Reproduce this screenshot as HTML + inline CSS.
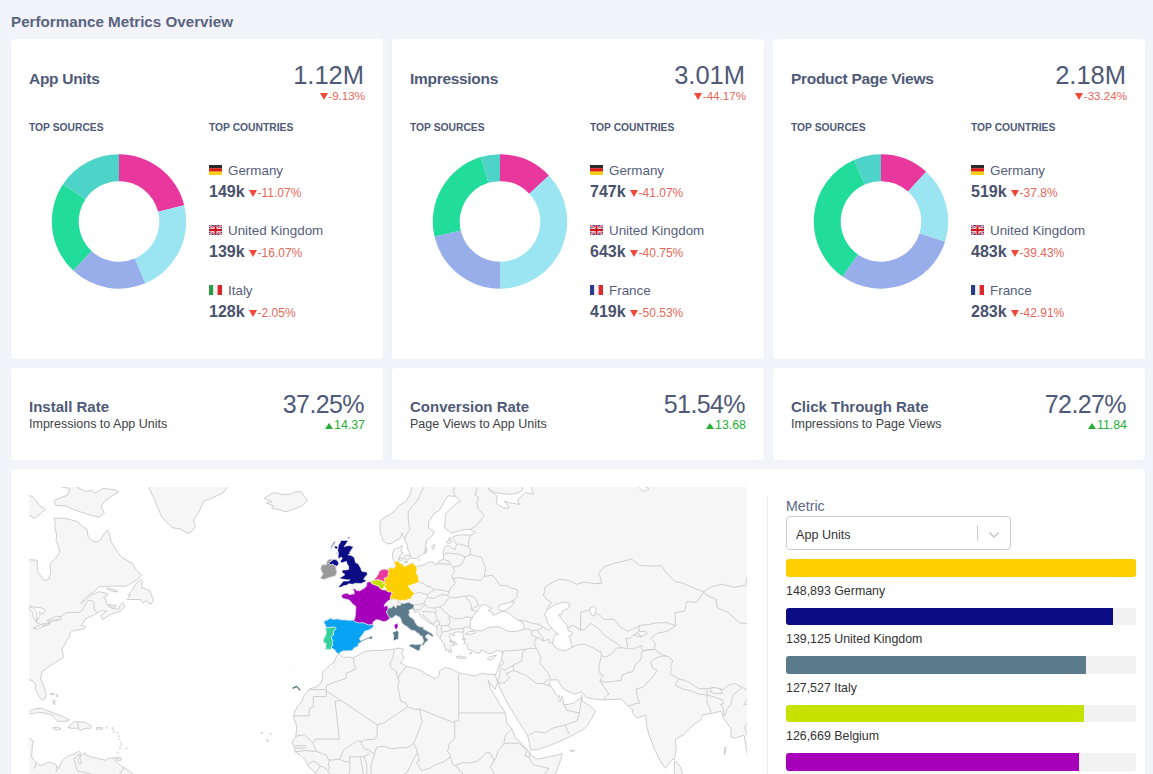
<!DOCTYPE html>
<html><head><meta charset="utf-8"><title>Performance Metrics Overview</title>
<style>
*{box-sizing:border-box;margin:0;padding:0}
html,body{width:1153px;height:774px;overflow:hidden;background:#f3f4fa;font-family:"Liberation Sans",Arial,sans-serif;color:#4f5a78}
.h{position:absolute;left:11px;top:13px;font-size:15.2px;line-height:18px;font-weight:bold;color:#59637f;white-space:nowrap}
.card{position:absolute;background:#fff;border-radius:3px;box-shadow:0 0 1px rgba(60,70,110,.08)}
.c1{top:39px;width:372px;height:320px}
.c2{top:368px;width:372px;height:92px}
.c3{top:469px;left:11px;width:1134px;height:330px}
.ttl{position:absolute;left:18px;top:31px;font-size:15.5px;letter-spacing:-0.3px;line-height:18px;font-weight:bold;color:#4f5a78;white-space:nowrap}
.big{position:absolute;right:19px;top:21.5px;font-size:25.5px;line-height:28px;font-weight:normal;color:#4f5a78;text-align:right;white-space:nowrap}
.chg{position:absolute;right:18px;top:50px;font-size:11.6px;line-height:13px;text-align:right;white-space:nowrap}
.tri{display:inline-block;width:0;height:0;border-left:4px solid transparent;border-right:4px solid transparent;border-top:7.4px solid currentColor;margin-right:0.5px;vertical-align:0px}
.up .tri{border-top:0;border-bottom:6.6px solid currentColor;border-left-width:4px;border-right-width:4px;margin-right:1px}
.tri2{display:inline-block;width:0;height:0;border-left:4px solid transparent;border-right:4px solid transparent;border-top:7px solid #f0483a;margin-right:0.5px;vertical-align:0px}
.dn{color:#e4685a}.dn .tri{border-top-color:#f0483a}.up{color:#27ae35}
.lbl{position:absolute;top:82px;font-size:10.3px;line-height:13px;font-weight:bold;color:#4f5a78;white-space:nowrap}
.l1{left:18px}.l2{left:198px}
.donut{position:absolute;left:40px;top:114px;width:136px;height:136px}
.donut svg{display:block}
.ctry{position:absolute;left:198px;white-space:nowrap}
.cn{font-size:13.4px;color:#56607c;line-height:16px;height:16px}
.cv{font-size:16px;font-weight:bold;color:#49526d;line-height:18px;margin-top:4px}
.cv span.dn{font-size:12px;font-weight:normal}
.flag{display:inline-block;width:13px;height:10px;vertical-align:0px;margin-right:6px}
.t2{top:30px;font-size:15px;letter-spacing:0}
.sub{position:absolute;left:18px;top:49px;font-size:12.5px;line-height:14px;color:#3d3f45;white-space:nowrap}
.b2{top:22px;font-size:25px;letter-spacing:-0.6px}
.g2{top:51px;font-size:12.4px}
.map{position:absolute;left:18px;top:18px;width:717.5px;height:320px;overflow:hidden}
.map svg{display:block}
.vsep{position:absolute;left:756px;top:27px;width:1px;height:300px;background:#ececec}
.metric{position:absolute;left:775px;top:29px;font-size:14.2px;line-height:16px;color:#5b6889}
.sel{position:absolute;left:775px;top:47px;width:225px;height:34px;border:1px solid #cccccc;border-radius:4px;background:#fff}
.sel span{position:absolute;left:9px;top:9.5px;font-size:12.6px;line-height:16px;color:#333}
.isep{position:absolute;left:190px;top:8px;width:1px;height:16px;background:#cccccc}
.chev{position:absolute;left:201px;top:13.5px}
.bar{position:absolute;left:775px;width:350px;height:17.5px;background:#f2f2f2;border-radius:3px;overflow:hidden}
.fill{height:100%}
.blab{position:absolute;left:775px;font-size:12.4px;line-height:14px;color:#333;white-space:nowrap}

</style></head><body>
<div class="h">Performance Metrics Overview</div>
<div class="card c1" style="left:11px"><div class="ttl">App Units</div><div class="big">1.12M</div><div class="chg dn"><span class="tri"></span>-9.13%</div><div class="lbl l1">TOP SOURCES</div><div class="lbl l2">TOP COUNTRIES</div><div class="donut"><svg width="136" height="136" viewBox="0 0 136 136"><path d="M68.00,1.25A67.2,67.2 0 0 1 133.20,52.19L107.10,58.70A40.3,40.3 0 0 0 68.00,28.15Z" fill="#e8389e"/><path d="M133.20,52.19A67.2,67.2 0 0 1 94.26,130.31L83.75,105.55A40.3,40.3 0 0 0 107.10,58.70Z" fill="#9be5f3"/><path d="M94.26,130.31A67.2,67.2 0 0 1 22.17,117.60L40.52,97.92A40.3,40.3 0 0 0 83.75,105.55Z" fill="#98aeeb"/><path d="M22.17,117.60A67.2,67.2 0 0 1 11.96,31.36L34.39,46.21A40.3,40.3 0 0 0 40.52,97.92Z" fill="#21dc9b"/><path d="M11.96,31.36A67.2,67.2 0 0 1 68.00,1.25L68.00,28.15A40.3,40.3 0 0 0 34.39,46.21Z" fill="#4dd3c8"/></svg></div><div class="ctry" style="top:124px"><div class="cn"><svg class="flag" viewBox="0 0 13 10"><rect width="13" height="3.4" fill="#2b2b2b"/><rect y="3.3" width="13" height="3.4" fill="#dd1c12"/><rect y="6.6" width="13" height="3.4" fill="#f5cf18"/></svg>Germany</div><div class="cv">149k <span class="dn"><span class="tri2"></span>-11.07%</span></div></div><div class="ctry" style="top:184px"><div class="cn"><svg class="flag" viewBox="0 0 13 10"><rect width="13" height="10" fill="#2a2a7a"/><path d="M0,0L13,10M13,0L0,10" stroke="#f6d0dc" stroke-width="2.4"/><path d="M0,0L13,10M13,0L0,10" stroke="#d0202c" stroke-width="0.8"/><path d="M6.5,0V10M0,5H13" stroke="#fbe3e8" stroke-width="3.6"/><path d="M6.5,0V10M0,5H13" stroke="#d0161e" stroke-width="2"/></svg>United Kingdom</div><div class="cv">139k <span class="dn"><span class="tri2"></span>-16.07%</span></div></div><div class="ctry" style="top:244px"><div class="cn"><svg class="flag" viewBox="0 0 13 10"><rect width="4.4" height="10" fill="#2a9d44"/><rect x="4.3" width="4.4" height="10" fill="#f4f4f4"/><rect x="8.6" width="4.4" height="10" fill="#d8262a"/></svg>Italy</div><div class="cv">128k <span class="dn"><span class="tri2"></span>-2.05%</span></div></div></div>
<div class="card c1" style="left:392px"><div class="ttl">Impressions</div><div class="big">3.01M</div><div class="chg dn"><span class="tri"></span>-44.17%</div><div class="lbl l1">TOP SOURCES</div><div class="lbl l2">TOP COUNTRIES</div><div class="donut"><svg width="136" height="136" viewBox="0 0 136 136"><path d="M68.00,1.25A67.2,67.2 0 0 1 116.99,22.45L97.38,40.86A40.3,40.3 0 0 0 68.00,28.15Z" fill="#e8389e"/><path d="M116.99,22.45A67.2,67.2 0 0 1 68.00,135.65L68.00,108.75A40.3,40.3 0 0 0 97.38,40.86Z" fill="#9be5f3"/><path d="M68.00,135.65A67.2,67.2 0 0 1 2.52,83.57L28.73,77.52A40.3,40.3 0 0 0 68.00,108.75Z" fill="#98aeeb"/><path d="M2.52,83.57A67.2,67.2 0 0 1 48.80,4.05L56.49,29.83A40.3,40.3 0 0 0 28.73,77.52Z" fill="#21dc9b"/><path d="M48.80,4.05A67.2,67.2 0 0 1 68.00,1.25L68.00,28.15A40.3,40.3 0 0 0 56.49,29.83Z" fill="#4dd3c8"/></svg></div><div class="ctry" style="top:124px"><div class="cn"><svg class="flag" viewBox="0 0 13 10"><rect width="13" height="3.4" fill="#2b2b2b"/><rect y="3.3" width="13" height="3.4" fill="#dd1c12"/><rect y="6.6" width="13" height="3.4" fill="#f5cf18"/></svg>Germany</div><div class="cv">747k <span class="dn"><span class="tri2"></span>-41.07%</span></div></div><div class="ctry" style="top:184px"><div class="cn"><svg class="flag" viewBox="0 0 13 10"><rect width="13" height="10" fill="#2a2a7a"/><path d="M0,0L13,10M13,0L0,10" stroke="#f6d0dc" stroke-width="2.4"/><path d="M0,0L13,10M13,0L0,10" stroke="#d0202c" stroke-width="0.8"/><path d="M6.5,0V10M0,5H13" stroke="#fbe3e8" stroke-width="3.6"/><path d="M6.5,0V10M0,5H13" stroke="#d0161e" stroke-width="2"/></svg>United Kingdom</div><div class="cv">643k <span class="dn"><span class="tri2"></span>-40.75%</span></div></div><div class="ctry" style="top:244px"><div class="cn"><svg class="flag" viewBox="0 0 13 10"><rect width="4.4" height="10" fill="#283c8c"/><rect x="4.3" width="4.4" height="10" fill="#f4f4f4"/><rect x="8.6" width="4.4" height="10" fill="#dc2a30"/></svg>France</div><div class="cv">419k <span class="dn"><span class="tri2"></span>-50.53%</span></div></div></div>
<div class="card c1" style="left:773px"><div class="ttl">Product Page Views</div><div class="big">2.18M</div><div class="chg dn"><span class="tri"></span>-33.24%</div><div class="lbl l1">TOP SOURCES</div><div class="lbl l2">TOP COUNTRIES</div><div class="donut"><svg width="136" height="136" viewBox="0 0 136 136"><path d="M68.00,1.25A67.2,67.2 0 0 1 113.14,18.67L95.07,38.60A40.3,40.3 0 0 0 68.00,28.15Z" fill="#e8389e"/><path d="M113.14,18.67A67.2,67.2 0 0 1 132.09,88.66L106.43,80.57A40.3,40.3 0 0 0 95.07,38.60Z" fill="#9be5f3"/><path d="M132.09,88.66A67.2,67.2 0 0 1 29.46,123.50L44.88,101.46A40.3,40.3 0 0 0 106.43,80.57Z" fill="#98aeeb"/><path d="M29.46,123.50A67.2,67.2 0 0 1 40.99,6.92L51.80,31.55A40.3,40.3 0 0 0 44.88,101.46Z" fill="#21dc9b"/><path d="M40.99,6.92A67.2,67.2 0 0 1 68.00,1.25L68.00,28.15A40.3,40.3 0 0 0 51.80,31.55Z" fill="#4dd3c8"/></svg></div><div class="ctry" style="top:124px"><div class="cn"><svg class="flag" viewBox="0 0 13 10"><rect width="13" height="3.4" fill="#2b2b2b"/><rect y="3.3" width="13" height="3.4" fill="#dd1c12"/><rect y="6.6" width="13" height="3.4" fill="#f5cf18"/></svg>Germany</div><div class="cv">519k <span class="dn"><span class="tri2"></span>-37.8%</span></div></div><div class="ctry" style="top:184px"><div class="cn"><svg class="flag" viewBox="0 0 13 10"><rect width="13" height="10" fill="#2a2a7a"/><path d="M0,0L13,10M13,0L0,10" stroke="#f6d0dc" stroke-width="2.4"/><path d="M0,0L13,10M13,0L0,10" stroke="#d0202c" stroke-width="0.8"/><path d="M6.5,0V10M0,5H13" stroke="#fbe3e8" stroke-width="3.6"/><path d="M6.5,0V10M0,5H13" stroke="#d0161e" stroke-width="2"/></svg>United Kingdom</div><div class="cv">483k <span class="dn"><span class="tri2"></span>-39.43%</span></div></div><div class="ctry" style="top:244px"><div class="cn"><svg class="flag" viewBox="0 0 13 10"><rect width="4.4" height="10" fill="#283c8c"/><rect x="4.3" width="4.4" height="10" fill="#f4f4f4"/><rect x="8.6" width="4.4" height="10" fill="#dc2a30"/></svg>France</div><div class="cv">283k <span class="dn"><span class="tri2"></span>-42.91%</span></div></div></div>
<div class="card c2" style="left:11px"><div class="ttl t2">Install Rate</div><div class="sub">Impressions to App Units</div><div class="big b2">37.25%</div><div class="chg up g2"><span class="tri"></span>14.37</div></div>
<div class="card c2" style="left:392px"><div class="ttl t2">Conversion Rate</div><div class="sub">Page Views to App Units</div><div class="big b2">51.54%</div><div class="chg up g2"><span class="tri"></span>13.68</div></div>
<div class="card c2" style="left:773px"><div class="ttl t2">Click Through Rate</div><div class="sub">Impressions to Page Views</div><div class="big b2">72.27%</div><div class="chg up g2"><span class="tri"></span>11.84</div></div>
<div class="card c3"><div class="map"><svg width="719" height="300" viewBox="0 0 719 300"><path d="M386.5,-19.0L384.6,-6.6L383.4,-0.5L380.6,8.1L376.7,14.6L370.8,17.8L366.1,23.4L362.2,26.6L355.9,30.3L351.9,32.7L350.8,37.0L351.1,42.9L351.5,47.1L353.5,51.2L353.5,53.5L357.4,56.4L359.0,56.9L362.9,56.4L366.9,53.5L371.6,51.2L373.2,45.9L374.3,50.0L375.5,51.7L378.3,58.6L379.1,63.7L381.4,67.7L382.2,70.4L382.6,71.5L387.3,71.5L388.1,70.4L392.8,67.7L396.0,64.9L396.7,57.5L398.3,52.9L402.6,49.4L405.4,44.7L399.5,41.2L399.5,35.1L404.2,27.8L411.3,22.2L414.8,15.2L419.1,8.8L427.0,9.4L431.3,14.6L427.8,15.9L421.9,21.6L416.4,26.6L416.0,36.4L415.6,41.2L419.9,44.1L421.9,46.2L429.8,44.1L435.6,42.6L441.1,42.3L443.9,44.1L446.6,45.6L441.5,48.2L433.7,47.7L429.0,48.2L423.9,49.7L423.9,51.7L426.2,55.2L427.4,57.5L426.2,62.3L424.2,62.0L420.3,58.6L416.4,59.2L414.0,63.2L414.4,68.2L414.4,72.1L410.1,74.0L408.5,76.7L405.0,77.3L404.2,75.1L400.3,74.8L394.0,78.1L387.3,79.5L385.3,78.1L384.2,75.9L381.8,76.7L379.1,78.1L376.7,79.2L373.9,79.2L374.7,77.0L371.6,77.0L370.8,76.5L370.4,74.8L369.2,73.7L370.0,70.4L371.6,68.2L374.3,66.0L372.0,64.9L372.8,61.5L373.2,58.6L369.2,60.9L365.3,62.0L363.7,65.4L363.3,71.0L365.3,73.7L365.3,76.5L366.3,77.6L366.9,79.2L365.7,79.7L364.9,81.6L362.9,80.8L359.8,81.4L359.0,83.0L355.9,82.2L353.1,82.4L350.2,84.8L349.6,86.7L348.4,88.8L347.2,90.4L345.6,92.0L344.9,93.3L341.5,94.7L339.0,95.1L337.8,95.7L337.8,98.3L336.2,100.6L332.3,102.9L330.7,103.9L327.2,103.4L326.4,101.9L324.0,101.9L325.2,104.4L325.2,107.2L324.0,107.0L320.9,107.7L317.7,106.2L313.8,107.2L312.6,108.5L312.8,110.3L314.4,111.5L319.3,112.5L321.5,114.0L323.2,116.5L327.0,119.5L326.8,121.5L326.6,127.8L325.6,132.6L324.5,133.3L319.7,133.4L316.6,132.9L313.8,133.1L308.5,131.9L304.0,132.4L301.2,131.3L298.5,133.1L295.3,134.1L295.0,135.5L295.9,137.2L297.1,138.8L296.5,140.3L297.1,143.5L297.5,146.2L296.5,148.3L295.7,150.8L294.6,151.9L294.2,154.5L295.3,155.1L295.3,156.2L296.9,156.0L296.9,158.0L296.9,160.7L296.1,162.5L297.7,162.1L300.5,162.5L302.4,161.7L304.0,161.6L306.3,163.4L306.7,164.5L307.9,165.6L309.5,166.9L310.5,166.3L311.1,165.2L314.2,163.8L318.1,163.8L323.2,163.6L325.0,160.9L327.6,159.8L328.6,159.8L329.5,156.5L332.3,154.7L330.3,151.5L332.3,149.0L334.8,145.7L335.4,144.2L340.1,142.8L344.1,140.2L344.5,138.4L343.9,137.8L343.7,135.5L344.1,135.0L347.2,132.6L350.4,133.1L352.7,134.1L354.7,134.6L357.4,134.1L360.2,131.7L361.0,131.2L363.7,130.7L366.5,128.3L370.0,129.8L371.2,130.5L372.0,132.6L372.8,135.3L375.1,137.9L377.7,139.3L380.2,141.4L382.6,143.3L385.5,143.5L387.5,145.1L387.9,146.2L389.5,145.9L390.3,147.6L391.6,149.0L393.0,148.8L393.6,150.8L394.8,153.8L394.0,155.6L393.0,158.3L394.8,158.0L396.5,154.9L398.7,154.0L398.9,151.7L396.7,150.8L396.7,148.8L399.1,146.9L402.2,149.0L403.6,149.9L404.2,148.3L401.8,146.0L397.9,143.9L396.3,143.0L394.0,141.9L395.2,140.5L390.4,139.8L388.1,138.4L386.1,135.5L384.6,132.2L381.0,130.0L379.6,127.8L380.6,125.6L379.8,123.4L383.0,121.7L385.5,122.4L384.9,123.9L386.1,125.9L387.7,123.9L390.1,126.4L392.0,129.8L396.0,132.6L398.3,135.0L402.6,137.0L405.8,138.4L407.7,140.7L408.1,144.4L407.7,147.6L409.7,149.4L410.9,151.3L412.9,154.4L414.4,156.2L415.6,157.1L414.4,158.9L416.4,159.8L416.8,163.4L419.5,162.9L419.9,165.2L422.7,165.2L421.5,160.3L422.3,158.5L425.8,158.0L423.9,155.8L420.3,154.4L422.7,153.5L421.5,151.7L420.3,149.0L421.5,146.2L423.1,148.1L425.4,149.0L424.6,145.8L427.8,144.9L433.3,145.1L433.7,146.2L434.5,148.8L434.1,151.3L436.4,152.2L434.9,156.7L436.4,156.2L438.4,158.5L439.2,162.5L442.7,163.4L446.6,165.6L451.0,166.1L452.2,162.9L455.3,164.3L460.4,166.9L463.2,166.1L467.9,163.4L471.0,164.3L473.8,164.3L472.6,170.5L472.6,173.1L471.0,176.1L469.1,180.9L468.3,183.9L467.1,186.5L465.9,187.3L458.4,187.3L453.3,186.1L449.0,187.8L445.5,189.0L437.6,187.3L430.5,186.1L425.8,183.9L421.9,181.8L416.0,180.5L410.5,183.9L410.1,188.6L406.2,191.6L398.3,187.8L391.2,183.1L383.4,180.5L377.1,179.6L374.7,177.4L371.2,176.1L373.9,172.6L375.1,170.5L373.2,167.8L372.8,165.2L374.7,162.1L370.0,161.2L362.2,162.5L351.1,163.4L343.3,163.4L335.4,164.7L329.1,168.3L323.6,170.9L320.1,170.0L314.2,170.5L310.7,167.4L308.7,167.8L307.1,170.0L304.8,175.7L301.6,177.4L295.3,183.1L293.0,186.5L293.0,187.3L293.8,191.2L291.4,196.7L286.3,200.4L280.8,201.7L279.6,203.0L274.5,209.6L272.6,215.0L268.6,219.1L265.1,226.0L264.5,230.9L266.7,236.1L267.8,240.1L266.7,250.1L262.7,255.2L265.5,260.0L265.9,264.7L270.6,267.8L272.6,269.8L274.1,270.9L277.7,275.6L279.2,279.5L286.3,285.8L292.2,289.6L302.0,295.5L351.1,312.5L488.7,320.2L498.5,314.0L509.5,304.8L520.1,293.1L522.1,292.0L528.0,283.4L531.9,272.1L533.1,266.6L526.0,268.6L508.4,272.1L502.5,268.6L500.9,267.4L499.7,263.9L495.4,260.0L488.7,252.1L486.7,251.7L483.2,242.1L477.7,235.7L476.5,226.0L471.4,218.3L465.1,207.5L461.2,201.3L459.2,193.3L460.4,195.8L466.1,202.4L468.7,195.0L469.1,195.8L471.0,201.3L474.9,209.6L478.9,217.0L485.6,228.0L490.7,236.1L498.5,248.1L500.1,254.8L501.7,263.1L508.4,262.7L522.1,258.0L536.6,251.7L547.6,246.1L554.7,242.1L558.7,238.1L562.6,231.7L566.5,224.0L561.8,219.5L553.2,214.2L552.8,208.0L551.6,211.7L548.8,212.5L545.3,216.2L535.9,217.8L534.3,216.6L534.3,212.5L532.7,209.2L531.1,214.6L528.4,209.6L526.0,205.5L521.7,199.2L520.1,195.4L522.1,192.9L526.0,192.9L529.2,192.9L531.1,197.5L535.9,203.0L545.7,207.1L552.8,204.6L556.7,210.4L565.3,212.1L573.6,212.9L583.0,212.5L592.8,212.1L594.8,214.6L598.7,218.7L600.7,219.9L604.6,224.0L602.7,224.8L606.6,230.1L608.6,230.9L616.8,228.0L617.6,238.1L620.0,248.1L622.3,254.0L625.5,262.3L631.0,273.7L636.3,281.2L638.8,278.0L643.1,272.5L645.3,272.5L647.1,261.5L646.3,252.1L654.9,247.7L658.9,243.3L665.9,236.9L672.6,232.1L673.4,228.0L678.5,227.2L683.2,226.4L687.2,225.2L692.3,224.4L694.2,230.9L696.6,234.1L702.1,242.1L702.1,250.1L706.4,250.9L715.1,248.1L717.4,261.9L719.0,273.7L724.5,281.5L783.5,293.1L783.5,-98.5L567.3,-33.5L504.4,-8.6L502.5,1.5L504.4,7.4L496.6,5.5L490.7,10.7L488.7,13.9L490.7,17.4L480.8,15.9L474.9,13.9L476.9,15.9L480.4,20.9L474.9,20.9L471.0,19.0L467.1,15.9L468.3,8.8L461.2,4.2L459.2,0.8L463.2,4.2L469.1,6.1L480.8,7.4L488.7,6.1L493.8,2.8L492.6,-5.2L449.4,-19.0ZM-61.5,-98.5L-41.9,-56.3L-22.2,-19.0L-14.3,-1.8L-6.5,4.8L-2.6,11.4L-8.4,17.8L-12.4,20.9L-24.2,27.2L-36.0,36.4L-39.9,51.2L-34.0,52.9L-32.0,61.5L-22.2,62.6L-14.3,65.4L-2.6,72.6L8.1,73.2L8.5,84.6L11.6,88.8L15.1,93.6L19.9,92.0L21.8,85.6L21.0,76.5L26.9,71.0L30.5,65.4L29.7,59.8L26.9,53.5L27.7,48.2L25.7,40.6L26.5,35.7L25.0,30.9L36.8,31.5L48.5,34.5L52.5,38.8L58.0,42.3L59.2,50.0L64.3,54.1L67.4,55.2L72.1,52.3L75.3,46.5L78.4,42.9L80.8,48.2L81.9,54.1L88.6,65.4L93.7,71.0L103.6,76.5L106.3,81.9L112.6,88.3L107.5,93.0L99.6,97.7L95.7,99.3L83.9,99.0L70.2,99.8L66.2,103.9L60.3,107.5L54.4,113.0L51.7,116.3L56.4,113.0L62.3,108.0L70.2,104.7L78.4,106.5L78.0,109.0L74.1,110.5L76.8,112.0L77.6,116.5L80.0,119.5L83.9,121.5L89.8,122.2L90.6,119.0L93.7,115.5L95.7,119.5L93.3,122.4L91.8,123.9L81.9,127.3L73.7,132.6L71.7,128.8L77.6,123.9L72.1,123.9L68.2,125.9L64.3,128.3L56.4,131.7L54.0,136.0L52.5,138.4L56.4,139.5L56.4,140.7L54.4,141.9L50.5,142.6L45.0,143.5L41.5,145.3L40.7,146.7L40.7,149.9L37.1,154.0L36.4,156.2L34.8,159.4L32.8,162.5L34.8,170.5L30.9,172.6L25.4,176.1L20.2,179.2L17.1,181.8L12.8,184.8L11.6,191.2L14.7,199.2L17.1,206.7L16.3,211.7L13.6,213.3L10.4,210.0L8.5,206.3L6.1,201.7L6.9,197.9L3.0,193.3L-0.2,192.9L-4.1,194.1L-22.2,195.0L-41.9,197.1L-49.7,213.7L-51.7,230.1L-45.8,238.1L-37.9,241.3L-26.1,239.3L-23.4,230.1L-14.3,228.0L-9.6,228.4L-12.4,236.1L-15.5,240.1L-15.1,246.1L-16.7,250.5L-14.3,250.9L-8.4,250.9L-2.6,250.5L1.4,252.1L4.5,254.0L3.3,258.0L3.0,263.9L2.6,269.8L5.3,273.7L9.2,277.6L12.4,278.4L17.1,276.4L19.1,275.2L25.0,276.4L28.1,279.1L29.7,281.5L32.0,276.0L34.8,272.1L37.5,269.8L39.9,268.6L44.6,267.4L49.7,264.1L52.1,266.6L50.5,269.8L52.5,269.0L55.6,265.5L57.2,268.2L63.1,270.2L68.2,271.3L76.0,273.3L79.2,271.3L87.8,270.9L85.9,272.9L91.8,279.1L97.7,282.3L102.8,286.1L106.7,290.0L115.3,289.3L123.2,291.2L128.7,296.2L135.0,306.7L135.0,312.5L-61.5,312.5ZM111.4,-33.5L115.3,-19.0L121.2,-8.6L120.5,2.2L125.2,11.4L128.3,19.7L133.0,30.3L138.9,36.4L142.9,40.6L150.7,41.8L159.0,46.5L162.5,44.7L166.4,39.4L164.5,33.3L170.4,24.1L174.3,14.6L183.7,10.7L193.9,6.1L203.8,-6.6L233.2,-19.0L233.2,-80.9L111.4,-80.9ZM245.0,21.9L249.0,22.2L256.8,24.7L264.7,22.2L272.6,19.0L278.4,13.9L274.5,8.1L272.6,4.8L266.7,4.8L260.8,7.4L252.9,7.4L245.0,5.5L241.1,7.4L235.2,11.4L243.1,14.6L237.2,15.9L245.0,19.0L242.3,20.9ZM-22.2,-56.3L-2.6,-19.0L13.2,-15.5L25.0,-5.2L40.7,-1.8L46.6,-0.5L56.4,4.2L62.3,3.5L66.2,6.1L74.1,1.5L85.9,2.8L89.8,4.8L81.9,9.4L75.3,14.6L72.1,19.7L75.3,25.9L70.9,30.3L62.3,28.4L52.5,25.3L46.6,23.4L36.8,19.0L26.9,18.4L25.0,13.3L38.7,8.1L40.7,1.5L25.0,-1.8L9.2,-12.1L-14.3,-19.0ZM-8.4,20.9L-2.6,26.6L5.3,31.5L13.2,25.3L16.3,22.2L11.2,19.0L3.3,9.4L-6.5,6.8L-12.4,12.6ZM98.1,112.5L101.6,108.0L98.8,108.0L103.6,102.9L106.3,97.2L111.8,92.0L113.4,93.6L112.6,100.3L117.3,102.4L121.2,103.9L122.4,108.5L124.4,112.5L122.4,117.0L119.3,116.0L117.7,113.5L114.2,116.0L111.4,112.5ZM78.0,101.1L87.8,103.4L89.0,104.9L83.1,104.4L78.0,101.9ZM78.4,117.5L83.9,118.0L87.8,118.5L85.9,120.5L80.8,119.5ZM-2.4,226.4L1.4,223.6L7.3,221.5L13.2,221.5L19.1,224.0L26.9,226.8L34.0,229.6L40.3,232.9L38.7,234.1L28.5,234.5L26.1,231.3L23.0,228.0L15.1,226.0L9.2,225.2L8.1,226.0L3.3,226.4L-0.6,226.8ZM38.9,240.5L45.4,234.5L49.7,234.7L56.4,235.3L60.3,237.7L62.9,239.7L61.5,241.3L56.4,241.3L51.7,243.7L48.5,241.3L42.6,241.3ZM23.6,240.9L28.9,240.1L32.0,242.1L29.3,242.7L25.7,242.5ZM67.2,240.5L73.7,240.7L73.3,242.1L67.4,242.3ZM24.2,212.9L26.1,213.7L25.7,217.8L23.8,215.8ZM21.0,206.7L25.4,206.7L25.0,207.5L21.0,207.3ZM27.7,207.1L29.3,208.4L28.1,210.0L26.9,208.8ZM88.2,270.6L91.8,270.6L91.8,273.3L88.2,273.3ZM307.1,82.7L307.9,84.8L306.5,88.8L304.0,89.4L298.9,90.9L294.2,92.5L291.4,90.9L292.6,89.4L294.2,86.7L292.6,84.6L291.8,81.9L292.6,78.1L297.7,77.6L297.7,75.7L298.9,72.9L302.8,71.8L303.0,73.5L299.5,75.9L301.6,78.1L304.0,77.0L305.6,78.9L306.7,78.7L306.7,79.7ZM427.0,170.0L430.1,168.9L434.9,170.0L437.2,170.2L436.4,171.3L431.7,171.6L427.4,170.5ZM458.4,171.8L460.8,169.6L467.5,168.3L464.7,170.9L464.7,171.6L461.2,173.1L458.8,172.6ZM440.4,166.5L442.3,164.9L442.3,166.7L441.1,167.4ZM432.9,152.4L436.0,151.7L435.3,153.3ZM421.1,153.5L426.2,154.9L428.2,158.0L424.6,156.2ZM374.7,71.5L375.5,68.8L379.4,67.7L381.0,69.9L379.4,73.2L376.7,72.6ZM370.0,71.0L372.4,70.4L373.9,72.1L372.8,73.7L370.4,73.2ZM374.7,74.6L377.9,74.0L378.7,75.4L375.9,75.7ZM402.6,60.3L405.0,57.2L406.2,58.1L404.2,62.6ZM396.0,66.5L397.9,60.9L398.3,61.5L396.3,67.1ZM417.2,55.2L419.9,53.5L423.1,54.1L420.3,56.9ZM419.1,51.7L421.5,50.6L421.9,52.3ZM389.3,72.9L390.8,72.6L390.8,73.7ZM645.3,274.5L647.1,274.5L651.0,279.5L653.4,284.6L652.2,287.7L648.3,289.5L645.9,288.5L645.1,283.4L645.5,279.5ZM541.0,263.5L545.7,263.1L544.5,264.5L542.1,264.7ZM529.8,208.6L530.6,208.6L530.4,210.4ZM695.8,260.3L697.0,260.3L696.2,265.8L695.4,267.8ZM238.0,252.8L239.1,252.8L239.1,254.4L238.0,254.0ZM232.1,245.3L233.6,245.7L232.9,246.5ZM241.3,246.7L242.3,247.3L241.5,247.9Z" fill="#f6f6f6" stroke="#cbcbcb" stroke-width="0.95" stroke-linejoin="round"/><path d="M445.9,143.5L453.3,143.9L459.2,140.7L465.1,139.8L469.8,139.8L473.0,141.2L476.9,143.5L482.4,144.6L487.5,144.4L494.6,142.1L495.0,138.4L492.6,135.0L487.5,132.2L482.0,127.8L478.1,125.4L475.3,124.4L474.9,123.9L471.0,125.4L467.1,127.3L465.9,127.8L463.2,127.8L463.5,125.4L459.2,123.4L463.2,121.0L461.2,120.5L455.3,117.5L452.2,118.0L450.2,121.5L448.2,124.4L444.3,128.8L441.5,134.1L441.1,139.8L441.5,141.6ZM475.3,123.9L478.9,121.5L481.6,120.0L485.6,114.5L482.0,115.0L476.9,116.5L471.0,117.5L469.1,121.5L471.0,123.4ZM436.4,147.2L439.6,144.6L445.5,144.4L446.6,145.8L441.5,147.2ZM518.2,135.0L517.4,130.2L515.4,127.8L518.2,122.4L522.1,120.5L526.0,117.5L535.5,115.0L540.6,116.5L539.8,121.0L533.1,124.4L532.7,127.8L529.2,127.3L533.9,133.6L538.6,138.8L539.0,143.0L539.8,144.4L543.7,145.3L542.5,148.1L539.8,149.0L541.4,152.2L543.3,160.3L535.9,163.8L530.0,162.5L526.0,160.3L523.7,156.2L524.9,151.3L526.4,147.6L529.6,147.2L526.0,144.9L522.5,140.7L519.4,136.5ZM561.4,120.5L565.3,119.5L567.3,122.9L565.3,129.3L562.6,127.8L560.6,123.9ZM50.1,270.6L50.9,270.6L51.7,273.7L52.5,276.4L50.1,276.8L48.9,274.5ZM605.0,-8.6L608.2,-1.2L612.9,3.5L616.8,4.2L620.0,1.5L616.8,0.2L613.7,-2.5L611.3,-8.6ZM-30.1,117.0L-18.3,108.0L-8.4,107.0L-1.8,111.5L-1.0,118.0L-10.4,118.0L-22.2,117.5ZM-13.6,139.8L-12.4,132.6L-11.2,122.9L-6.5,120.5L-2.6,121.5L-7.7,130.2L-8.1,138.4L-10.4,141.2ZM-1.0,121.5L3.3,120.0L11.2,120.5L16.3,122.9L14.3,127.3L10.4,124.4L11.2,127.8L7.3,134.6L4.1,130.2L3.7,124.9ZM4.1,141.2L13.2,137.0L21.0,135.5L20.6,137.4L15.1,139.3L7.3,142.1ZM17.9,133.6L25.0,130.2L31.6,129.3L32.0,132.6L26.9,133.6L20.2,134.1Z" fill="#fff" stroke="#cbcbcb" stroke-width="0.95" stroke-linejoin="round"/><path d="M402.2,-8.6L396.0,-1.8L391.6,6.1L388.5,13.3L385.3,17.1L379.4,24.1L379.1,29.6L379.8,38.2L381.0,42.3L377.9,46.5L376.3,51.2L375.5,51.7M426.4,9.4L424.6,4.8L425.4,-1.8L423.9,-8.6M441.5,42.3L447.8,38.2L455.3,28.4L449.4,22.2L447.8,15.9L449.8,10.1L445.9,8.1L449.0,-1.8L444.3,-6.6L443.5,-15.5M441.5,48.5L440.4,51.7L439.6,54.1L439.6,58.1L439.2,59.5M427.0,57.8L429.8,56.9L433.7,58.1L439.2,59.5L441.5,62.6L441.1,67.7L436.0,69.9M414.2,67.9L418.0,66.0L423.9,66.5L429.8,67.1L436.0,69.9L434.5,73.7L432.5,77.6L427.4,79.7L423.9,79.7L421.1,77.3L420.3,74.3L415.2,72.6M408.5,76.7L421.1,77.3M423.9,79.7L425.4,83.5L424.2,86.7L422.7,88.3L424.2,92.0L426.2,96.2L421.9,100.8L420.3,104.9L414.0,103.4L408.1,102.4L405.4,102.9L401.1,99.3L397.5,99.3L395.2,96.7L390.4,95.1M385.7,106.5L390.4,105.4L397.9,107.5L400.3,106.0L405.4,102.9M397.9,107.5L399.1,110.5L405.4,111.5L408.5,109.5L413.2,107.5L418.4,108.5L420.3,104.9M399.1,110.5L396.3,113.0L394.8,116.3L390.4,117.5L385.3,118.0M394.8,116.3L396.7,118.0L399.5,120.7L405.4,121.0L411.3,119.7L415.2,117.5L418.4,112.5L421.5,110.5L418.4,108.5M384.9,122.9L388.5,122.4L391.6,122.9L393.2,119.5L396.7,118.0M393.2,124.4L396.3,124.4L400.3,124.9L406.2,125.4M393.6,126.8L395.2,129.3L399.1,132.6L400.7,135.0L404.2,137.4M405.4,121.0L407.7,124.4L406.2,125.9L407.3,130.2L408.5,132.6L407.0,133.6L404.2,137.4M407.0,133.6L411.3,135.0L410.1,137.0L409.3,137.4L407.7,140.5M410.1,137.0L412.5,139.8L412.1,143.9L413.2,144.9L411.3,150.4L410.1,150.6M412.5,138.8L416.0,138.4L419.5,138.4L421.9,141.6L420.3,143.9L414.0,144.9L413.2,144.9M420.3,143.9L421.9,142.6L427.8,141.9L434.1,141.2L434.9,143.0L433.7,145.8M434.1,141.2L437.2,139.8L441.5,140.0M419.5,138.4L421.5,134.1L419.5,131.2L420.7,129.3L425.8,131.7L431.7,131.9L437.6,129.8L443.9,131.4M411.3,119.7L415.2,124.4L420.7,129.3M421.5,110.5L425.8,110.8L436.0,109.2L439.6,113.0L442.3,118.0L442.3,122.9L448.2,124.4M436.0,109.2L441.5,108.5L446.3,111.0L449.8,118.5L445.1,120.5L442.3,122.9M424.2,92.0L429.8,90.4L437.6,92.0L451.4,93.6L455.3,89.4L463.2,88.3L467.1,92.5L471.0,98.3L478.9,98.8L481.6,100.8L488.7,102.9L487.9,110.5L482.0,114.5M455.3,89.4L456.5,80.3L452.5,70.4L442.3,67.7L441.1,67.7M488.3,133.1L496.6,134.1L504.4,136.5L510.3,137.4L514.2,140.2L519.4,143.5L522.5,140.7M494.6,142.1L499.7,142.1L502.5,143.9L508.4,143.0L514.2,140.2M502.5,143.9L502.8,148.5L507.6,150.4L510.3,151.3L514.2,154.0L514.2,151.3L510.3,146.2L508.4,143.0M514.2,154.0L520.1,152.2L520.1,155.8L523.7,156.2M507.6,150.4L505.2,155.8L506.0,158.9L507.6,161.6L500.5,161.2L497.7,162.1L490.7,162.9L482.8,163.8L476.9,163.8L475.3,163.4L473.0,167.4M497.7,162.1L493.8,164.7L492.6,174.0L484.0,178.3L476.1,183.1L472.2,181.3M472.6,173.1L475.3,174.8L472.2,178.7L469.4,179.6M471.4,181.3L471.0,186.5L469.1,195.0M465.9,187.3L468.7,195.0M469.1,195.8L474.9,196.2L480.8,190.7L476.9,186.5L484.8,183.5L484.0,178.3M484.8,183.5L496.6,188.2L507.2,196.2L514.2,196.7L519.0,192.4L520.1,192.9M514.2,196.7L521.7,199.2M507.6,161.6L510.3,167.4L512.3,171.3L510.3,175.7L514.2,180.0L519.4,186.5L522.1,192.9M499.7,248.5L506.4,244.5L516.2,246.1L523.3,241.3L535.9,238.1L547.6,234.1L550.4,226.0L537.8,223.2L534.3,216.6M535.9,238.1L540.2,247.3M550.4,226.0L551.6,217.8L552.8,211.3M572.4,168.7L570.8,175.7L569.7,180.0L571.2,186.9L574.4,188.6L570.8,193.5L574.4,199.2L578.3,204.6L579.9,207.1L573.6,212.9M543.3,160.3L547.6,158.0L555.5,157.1L563.4,160.3L569.3,164.3L572.0,164.3L572.4,168.7L577.1,170.0L583.0,166.9L587.0,161.2L592.8,160.7L587.0,155.8L581.1,152.2L575.2,148.1L571.2,143.5L567.3,139.8L561.4,136.5L555.5,143.0L551.6,143.0L543.7,138.4L539.0,140.7M551.6,143.0L551.6,125.4L561.8,122.4M567.3,126.4L571.2,128.3L575.2,132.6L585.0,132.2L590.9,139.8L598.7,144.4L602.7,142.6L608.6,139.8L610.5,138.4L620.4,137.4L626.2,136.0L638.0,135.5L646.7,138.8L638.0,144.4L628.2,146.2L621.5,151.3L626.2,155.8L625.5,161.2L624.3,162.5M610.5,138.4L609.7,144.4L616.4,144.4L618.4,146.7L612.5,149.9L604.6,148.1L600.7,151.3L596.8,151.3L598.7,158.0L598.0,161.6M592.8,160.7L598.0,161.6L604.6,162.1L612.5,158.5L613.3,163.8L624.3,162.5M604.6,148.1L608.6,145.3L612.5,149.9M646.7,138.8L645.9,125.9L655.7,123.9L657.7,114.5L667.5,115.5L674.6,104.9M517.4,122.9L522.5,115.5L517.4,112.0L514.2,108.0L516.2,104.4L515.4,100.3L520.1,97.2L530.0,92.0L539.8,93.6L547.6,97.2L555.5,95.1L565.3,96.7L572.8,96.2L571.2,89.9L569.3,87.2L571.2,84.6L575.2,79.7L587.0,75.9L602.7,72.1L610.5,78.1L620.4,79.2L632.1,78.7L638.0,86.7L645.9,94.6L653.8,96.2L665.5,101.3L674.6,104.9M674.6,104.9L681.3,100.3L693.1,97.2L704.9,100.3L716.6,98.3L717.8,90.4L732.4,92.5L748.1,98.8L763.8,102.9M674.6,104.9L677.3,108.0L687.2,112.5L688.0,120.5L699.0,125.4L710.7,136.0L724.5,137.0L744.2,141.6L763.8,137.4M624.3,162.5L626.2,162.5L628.2,164.3L634.1,168.3L638.0,169.1L643.9,173.5L641.2,180.0L643.1,182.2L640.8,186.5L646.7,190.3L649.8,192.0M645.9,197.9L649.8,192.0L655.7,193.3L661.6,196.2L669.5,201.7L677.7,201.7L678.1,208.0L669.5,207.1L661.6,203.8L653.8,202.1L645.9,197.9M677.7,201.7L680.5,201.3L684.0,200.4L691.5,201.7L693.1,203.0L700.9,197.5L706.4,196.7L713.1,200.4M680.5,204.2L684.0,200.4M680.5,204.2L685.2,206.3L693.5,206.3L691.5,201.7M713.1,200.4L708.8,204.2L704.9,207.1L702.9,211.7L701.7,217.8L698.2,221.9L697.0,226.0L695.4,228.8M678.1,208.0L684.4,209.6L693.1,212.9L694.6,217.0L691.1,217.4L693.8,219.9L695.4,228.8M678.1,208.0L678.1,215.8L681.3,221.9L681.3,226.4M599.5,219.1L606.6,216.6L610.9,216.2L608.6,210.9L607.0,202.1L614.5,200.0L620.4,193.3L624.7,188.6L628.2,183.1L623.5,180.9L621.5,174.8L624.3,172.2L632.1,169.1L637.3,169.1M570.8,193.5L577.1,195.4L592.1,193.3L592.8,188.6L598.7,185.6L603.8,184.8L606.6,177.0L610.9,173.5L612.9,169.1L611.3,166.5L616.4,162.9L624.3,162.5M713.1,200.4L718.6,203.4L719.4,210.0L714.7,217.8L720.2,217.4L722.5,225.6L729.2,228.0L732.4,224.0M724.5,232.5L718.6,235.3L715.5,240.1L719.0,250.1L718.6,258.0L721.4,265.8L719.4,273.7M724.5,232.5L729.2,228.0M324.8,170.9L324.4,174.4L326.8,181.8L322.9,183.9L317.0,186.1L317.4,191.2L311.1,193.3L297.3,198.4L297.3,202.7L279.6,202.7M297.3,202.7L297.3,204.2L312.6,213.7M297.3,204.2L297.3,209.6L284.3,209.6L284.3,219.9L280.4,221.9L280.0,228.8L264.7,228.8M312.6,213.7L306.0,214.2L309.9,248.1L310.3,252.1L286.7,252.1L283.6,255.6L275.3,247.7L266.7,249.3M312.6,213.7L335.8,229.6L348.4,237.7L354.3,236.1L362.9,230.5L378.7,219.9L376.7,215.8L371.6,214.2L370.4,207.5L368.8,199.2L370.4,192.9L368.8,191.6M365.3,162.7L364.5,166.9L363.7,171.3L361.8,174.4L361.0,179.2L364.1,182.2L367.3,184.3L368.8,191.6L371.6,186.5L374.3,183.1L376.7,179.6M378.7,219.9L386.5,222.7L390.4,221.9L425.8,236.1L425.8,234.1L429.8,234.1L429.8,226.0L429.8,197.1L429.4,190.7L430.5,186.1M429.8,226.0L476.5,226.0M425.8,236.1L425.8,251.3L419.5,257.6L419.9,261.9L418.0,263.5L421.5,268.2L421.1,270.2M390.4,221.9L392.4,231.3L393.2,234.5L386.5,252.1L384.6,256.4M348.4,237.7L348.0,248.5L345.3,252.4L336.6,252.8L332.3,254.4L333.1,258.0L335.4,261.9L339.8,263.1L345.6,267.0L347.6,260.0L355.1,259.2L362.9,261.9L370.8,260.7L378.7,260.7L384.6,256.4M384.6,256.4L387.3,261.9L388.5,265.8L384.6,271.7L381.8,278.4L377.9,285.4L374.7,287.3L370.0,289.3L365.3,294.7M388.5,265.8L390.4,273.7L387.3,275.2L392.4,283.4L400.3,281.5L406.2,277.6L414.0,275.2L421.1,270.2L423.9,277.6L427.8,279.5L431.7,284.6L439.6,293.1M425.8,278.8L433.7,275.6L441.5,276.0L449.4,273.7L457.3,265.8L461.2,265.8L465.1,273.7L467.1,270.6L469.1,263.9L474.9,256.8L476.5,248.1L482.8,242.1M465.1,273.7L461.2,279.9L469.1,293.1M474.9,256.8L480.8,256.0L486.7,256.4L489.5,256.0L494.6,260.0L498.1,263.9M498.1,263.9L495.8,269.0L499.7,270.2L501.7,266.2M499.7,270.2L504.4,277.6L520.1,281.5L510.3,293.1L504.4,293.5L496.2,297.0M469.1,293.1L480.8,298.6L486.7,299.0L492.6,297.0M332.3,254.4L327.6,254.0L323.6,257.2L317.7,260.7L314.6,263.1L311.9,269.8L309.9,272.1L304.0,272.9L300.1,273.3L296.9,267.8L292.2,266.2L287.5,264.3L283.6,255.6M309.9,272.1L315.8,274.5L320.5,275.2L320.5,269.8L331.5,269.8L336.2,269.0L340.9,266.2M345.6,267.0L342.1,277.6L342.1,287.7M335.0,269.8L337.8,277.6L337.8,288.5M331.5,269.8L333.1,278.8L333.9,285.4L336.2,288.9M320.5,275.2L321.3,281.5L318.9,289.3L319.3,292.7M300.1,273.3L299.3,277.6L300.8,281.5L298.5,283.0L302.0,289.3L302.0,295.5M298.5,283.0L294.2,279.9L291.0,279.5L289.4,276.8L284.3,274.1L279.2,277.6M291.0,279.5L286.3,285.8M287.5,264.3L282.4,264.3L277.7,263.5L265.9,264.7M265.9,261.1L277.3,261.1M265.9,258.8L277.3,258.8M-41.9,105.4L-20.6,110.5L-1.8,116.0L-0.2,118.0L3.3,120.5L7.7,125.4L7.3,135.0L13.2,138.4L21.0,136.0L21.0,133.6L28.9,132.2L34.8,127.3L37.9,125.4L50.5,125.4L52.9,123.9L55.2,120.5L56.4,117.0L59.5,113.3L63.1,113.8L65.0,115.2L65.0,122.0L66.6,124.4L68.2,125.9M6.9,275.6L5.7,281.5M27.3,278.8L28.1,281.9L26.9,285.4M51.3,266.4L47.4,269.4L45.0,272.1L47.0,279.5L48.5,284.2L56.4,285.4L66.2,288.5M95.7,279.5L93.7,282.3L91.0,286.5L90.6,289.6L92.9,292.4M106.7,290.0L103.6,297.0M119.3,290.4L119.3,298.6M48.5,234.5L49.7,242.1M-15.1,242.5L-19.1,242.9" fill="none" stroke="#cbcbcb" stroke-width="0.95" stroke-linejoin="round"/><path d="M355.1,119.5L355.5,117.5L358.6,114.0L361.4,112.5L365.3,112.0L369.2,113.0L369.2,115.3L372.6,116.0L371.2,118.5L368.0,118.0L366.9,121.2L364.5,118.5L362.5,121.0L359.0,121.0L358.2,118.5Z" fill="#f6f6f6" stroke="#cbcbcb" stroke-width="0.95"/><g fill="#f6f6f6" stroke="#cbcbcb" stroke-width="0.6"><circle cx="91.8" cy="255.6" r="0.7"/><circle cx="89.8" cy="249.3" r="0.7"/><circle cx="88.6" cy="245.7" r="0.7"/><circle cx="90.2" cy="252.4" r="0.7"/><circle cx="91.8" cy="258.4" r="0.7"/><circle cx="91.0" cy="261.1" r="0.7"/><circle cx="97.3" cy="261.5" r="0.7"/><circle cx="89.0" cy="265.5" r="0.7"/><circle cx="84.7" cy="244.9" r="0.7"/><circle cx="83.9" cy="241.7" r="0.7"/><circle cx="77.6" cy="240.5" r="0.7"/><circle cx="83.5" cy="241.3" r="0.7"/></g><path d="M309.1,100.1L311.9,100.3L315.0,98.5L317.7,98.3L319.7,96.7L323.6,97.2L326.4,96.2L332.3,96.4L335.4,95.1L337.0,94.1L337.0,93.0L334.6,92.5L335.4,90.9L338.4,87.2L337.8,85.1L333.1,84.6L331.9,82.4L331.9,81.4L329.9,78.1L329.1,76.5L326.8,75.9L326.0,73.7L325.2,70.4L323.6,69.3L321.3,68.2L318.9,67.9L321.3,66.5L320.5,65.4L322.9,62.0L324.4,59.8L320.5,58.6L317.7,58.9L315.0,59.8L316.6,57.5L319.3,53.5L315.8,53.5L311.9,53.5L311.1,55.8L309.5,58.1L309.1,60.9L308.7,63.7L309.5,66.0L309.1,69.3L309.5,72.1L312.2,69.9L313.4,71.5L311.5,73.7L311.9,75.7L314.2,75.4L317.4,74.3L318.1,77.0L319.7,79.2L319.7,80.8L319.7,82.4L318.5,82.7L315.8,83.0L313.4,83.0L313.0,85.6L315.4,86.7L315.4,88.3L313.4,89.4L310.7,90.7L311.9,91.7L315.0,92.3L318.9,93.0L320.9,92.3L319.7,94.1L315.0,94.1L313.4,95.1L311.9,97.2ZM303.0,73.5L304.4,72.6L307.1,72.6L309.1,74.8L309.9,77.0L307.5,79.2L306.7,78.7L305.6,78.9L304.0,77.0L301.6,78.1L299.5,75.9ZM301.6,63.2L303.2,59.2L307.1,54.1L304.8,55.2L302.0,59.8ZM304.8,59.2L308.3,59.2L309.1,61.5L306.7,62.0ZM306.3,66.5L309.1,64.9L308.3,66.5ZM318.5,50.6L320.9,50.0L320.1,52.3Z" fill="#0c0c84" stroke="#fff" stroke-width="0.5" stroke-linejoin="round"/><path d="M307.1,82.7L307.9,84.8L306.5,88.8L304.0,89.4L298.9,90.9L294.2,92.5L291.4,90.9L292.6,89.4L294.2,86.7L292.6,84.6L291.8,81.9L292.6,78.1L297.7,77.6L297.7,75.7L298.9,72.9L302.8,71.8L303.0,73.5L299.5,75.9L301.6,78.1L304.0,77.0L305.6,78.9L306.7,78.7L306.7,79.7Z" fill="#999999" stroke="#fff" stroke-width="0.5" stroke-linejoin="round"/><path d="M341.5,94.7L342.9,96.7L345.6,97.7L348.0,98.8L350.6,99.5L350.4,100.6L352.7,102.4L354.7,102.9L356.7,103.1L359.0,104.7L361.4,104.9L363.7,105.6L362.2,107.5L361.4,110.5L361.4,112.5L358.6,114.0L355.5,117.5L355.1,119.5L358.2,118.5L359.0,121.0L359.0,122.4L357.4,124.9L359.0,128.3L361.0,131.2L360.2,131.7L357.4,134.1L354.7,134.6L352.7,134.1L350.4,133.1L347.2,132.6L344.1,135.0L343.7,135.5L343.9,137.8L339.4,137.9L337.2,137.0L334.3,135.8L330.3,136.0L326.0,134.8L324.5,133.3L325.6,132.6L326.6,127.8L326.8,121.5L327.0,119.5L323.2,116.5L321.5,114.0L319.3,112.5L314.4,111.5L312.8,110.3L312.6,108.5L313.8,107.2L317.7,106.2L320.9,107.7L324.0,107.0L325.2,107.2L325.2,104.4L324.0,101.9L326.4,101.9L327.2,103.4L330.7,103.9L332.3,102.9L336.2,100.6L337.8,98.3L337.8,95.7L339.0,95.1ZM368.4,135.0L369.0,139.3L367.7,142.6L366.1,141.6L365.3,139.8L365.5,137.4L368.0,136.5Z" fill="#a600ba" stroke="#fff" stroke-width="0.5" stroke-linejoin="round"/><path d="M343.9,137.8L344.5,138.4L344.1,140.2L340.1,142.8L335.4,144.2L334.8,145.7L332.3,149.0L330.3,151.5L332.3,154.7L329.5,156.5L328.6,159.8L327.6,159.8L325.0,160.9L323.2,163.6L318.1,163.8L314.2,163.8L311.1,165.2L310.5,166.3L309.5,166.9L307.9,165.6L306.7,164.5L306.3,163.4L304.0,161.6L302.4,161.7L302.0,159.8L304.0,158.0L302.8,155.8L304.0,154.0L302.0,150.6L304.4,147.8L304.6,144.4L307.1,141.6L305.6,140.0L303.2,140.2L299.7,140.7L296.5,140.3L297.1,138.8L295.9,137.2L295.0,135.5L295.3,134.1L298.5,133.1L301.2,131.3L304.0,132.4L308.5,131.9L313.8,133.1L316.6,132.9L319.7,133.4L324.5,133.3L326.0,134.8L330.3,136.0L334.3,135.8L337.2,137.0L339.4,137.9Z" fill="#09a3f4" stroke="#fff" stroke-width="0.5" stroke-linejoin="round"/><path d="M296.5,140.3L297.1,143.5L297.5,146.2L296.5,148.3L295.7,150.8L294.6,151.9L294.2,154.5L295.3,155.1L295.3,156.2L296.9,156.0L296.9,158.0L296.9,160.7L296.1,162.5L297.7,162.1L300.5,162.5L302.4,161.7L302.0,159.8L304.0,158.0L302.8,155.8L304.0,154.0L302.0,150.6L304.4,147.8L304.6,144.4L307.1,141.6L305.6,140.0L303.2,140.2L299.7,140.7ZM263.7,180.7L265.9,181.1L265.1,181.5Z" fill="#37d19e" stroke="#fff" stroke-width="0.5" stroke-linejoin="round"/><path d="M359.0,83.0L359.8,81.4L362.9,80.8L364.9,81.6L365.7,79.7L366.9,79.2L366.3,77.6L365.3,76.5L365.5,74.2L368.4,74.6L370.4,74.8L370.8,76.5L371.6,77.0L374.7,77.0L373.9,79.2L376.7,79.2L379.1,78.1L381.8,76.7L384.2,75.9L385.3,78.1L387.3,79.5L388.1,83.0L386.9,85.6L389.3,89.4L389.3,92.0L390.4,95.1L387.7,95.7L384.6,97.2L380.6,98.3L379.1,98.8L380.6,101.3L382.6,103.9L385.7,106.5L384.4,107.7L382.6,109.5L381.8,112.0L379.8,112.0L375.9,113.5L372.8,112.8L371.6,114.0L369.2,113.0L365.3,112.0L361.4,112.5L361.4,110.5L362.2,107.5L363.7,105.6L361.4,104.9L359.0,104.7L356.7,103.1L357.0,101.3L355.5,99.8L356.3,97.7L355.1,96.4L355.5,94.6L355.9,93.0L354.9,91.2L357.8,90.4L358.2,89.4L359.2,88.6L359.0,86.7L359.8,84.6Z" fill="#fecf00" stroke="#fff" stroke-width="0.5" stroke-linejoin="round"/><path d="M344.9,93.3L345.6,92.0L347.2,90.4L348.4,88.8L349.6,86.7L350.2,84.8L353.1,82.4L355.9,82.2L359.0,83.0L359.8,84.6L359.0,86.7L359.2,88.6L358.2,89.4L357.8,90.4L354.9,91.2L355.9,93.0L355.5,94.6L355.1,96.4L353.9,96.4L354.3,94.4L351.9,93.6L349.2,92.8Z" fill="#e8399e" stroke="#fff" stroke-width="0.5" stroke-linejoin="round"/><path d="M341.5,94.7L344.9,93.3L349.2,92.8L351.9,93.6L354.3,94.4L353.9,96.4L355.1,96.4L356.3,97.7L356.7,98.8L355.1,99.5L354.1,101.3L354.3,102.6L352.7,102.4L350.4,100.6L350.6,99.5L348.0,98.8L345.6,97.7L342.9,96.7Z" fill="#c8e200" stroke="#fff" stroke-width="0.5" stroke-linejoin="round"/><path d="M361.0,131.2L359.0,128.3L357.4,124.9L359.0,122.4L359.0,121.0L362.5,121.0L364.5,118.5L366.9,121.2L368.0,118.0L371.2,118.5L372.6,116.0L374.7,116.5L379.4,115.3L385.3,118.0L384.6,120.5L385.5,122.4L383.0,121.7L379.8,123.4L380.6,125.6L379.6,127.8L381.0,130.0L384.6,132.2L386.1,135.5L388.1,138.4L390.4,139.8L395.2,140.5L394.0,141.9L396.3,143.0L397.9,143.9L401.8,146.0L404.2,148.3L403.6,149.9L402.2,149.0L399.1,146.9L396.7,148.8L396.7,150.8L398.9,151.7L398.7,154.0L396.5,154.9L394.8,158.0L393.0,158.3L394.0,155.6L394.8,153.8L393.6,150.8L393.0,148.8L391.6,149.0L390.3,147.6L389.5,145.9L387.9,146.2L387.5,145.1L385.5,143.5L382.6,143.3L380.2,141.4L377.7,139.3L375.1,137.9L372.8,135.3L372.0,132.6L371.2,130.5L370.0,129.8L366.5,128.3L363.7,130.7ZM380.2,158.9L380.6,157.6L383.8,157.1L386.5,157.8L393.0,156.9L391.2,160.3L390.8,163.8L388.1,163.4L383.4,160.7L381.0,159.8ZM367.7,143.3L369.8,144.9L369.4,149.0L369.4,152.6L367.3,152.6L364.5,154.0L364.5,151.3L364.7,147.6L363.5,146.2L364.1,144.9L366.5,144.6Z" fill="#5b7b8d" stroke="#fff" stroke-width="0.5" stroke-linejoin="round"/><path d="M263.6,201.4L267.5,199.4L271.3,203.4" fill="none" stroke="#4d7282" stroke-width="1.3" stroke-linejoin="round"/><path d="M329.5,155.3L340.5,150.6" fill="none" stroke="#6b8090" stroke-width="0.8"/><path d="M339.5,150.8L343.5,149L342.5,152.3Z" fill="#5e7686"/></svg></div><div class="vsep"></div><div class="metric">Metric</div><div class="sel"><span>App Units</span><i class="isep"></i><svg class="chev" width="12" height="8" viewBox="0 0 12 8"><path d="M1.5,1.5L6,6L10.5,1.5" fill="none" stroke="#c4c4c4" stroke-width="1.4"/></svg></div><div class="bar" style="top:90.0px"><div class="fill" style="width:100.00%;background:#fed000"></div></div><div class="blab" style="top:114.5px">148,893 Germany</div><div class="bar" style="top:138.6px"><div class="fill" style="width:93.44%;background:#0c0c84"></div></div><div class="blab" style="top:163.1px">139,125 United Kingdom</div><div class="bar" style="top:187.2px"><div class="fill" style="width:85.65%;background:#5b7b8d"></div></div><div class="blab" style="top:211.7px">127,527 Italy</div><div class="bar" style="top:235.8px"><div class="fill" style="width:85.07%;background:#c8e200"></div></div><div class="blab" style="top:260.3px">126,669 Belgium</div><div class="bar" style="top:284.4px"><div class="fill" style="width:83.70%;background:#a600ba"></div></div><div class="blab" style="top:308.9px">124,584 France</div></div>
</body></html>
